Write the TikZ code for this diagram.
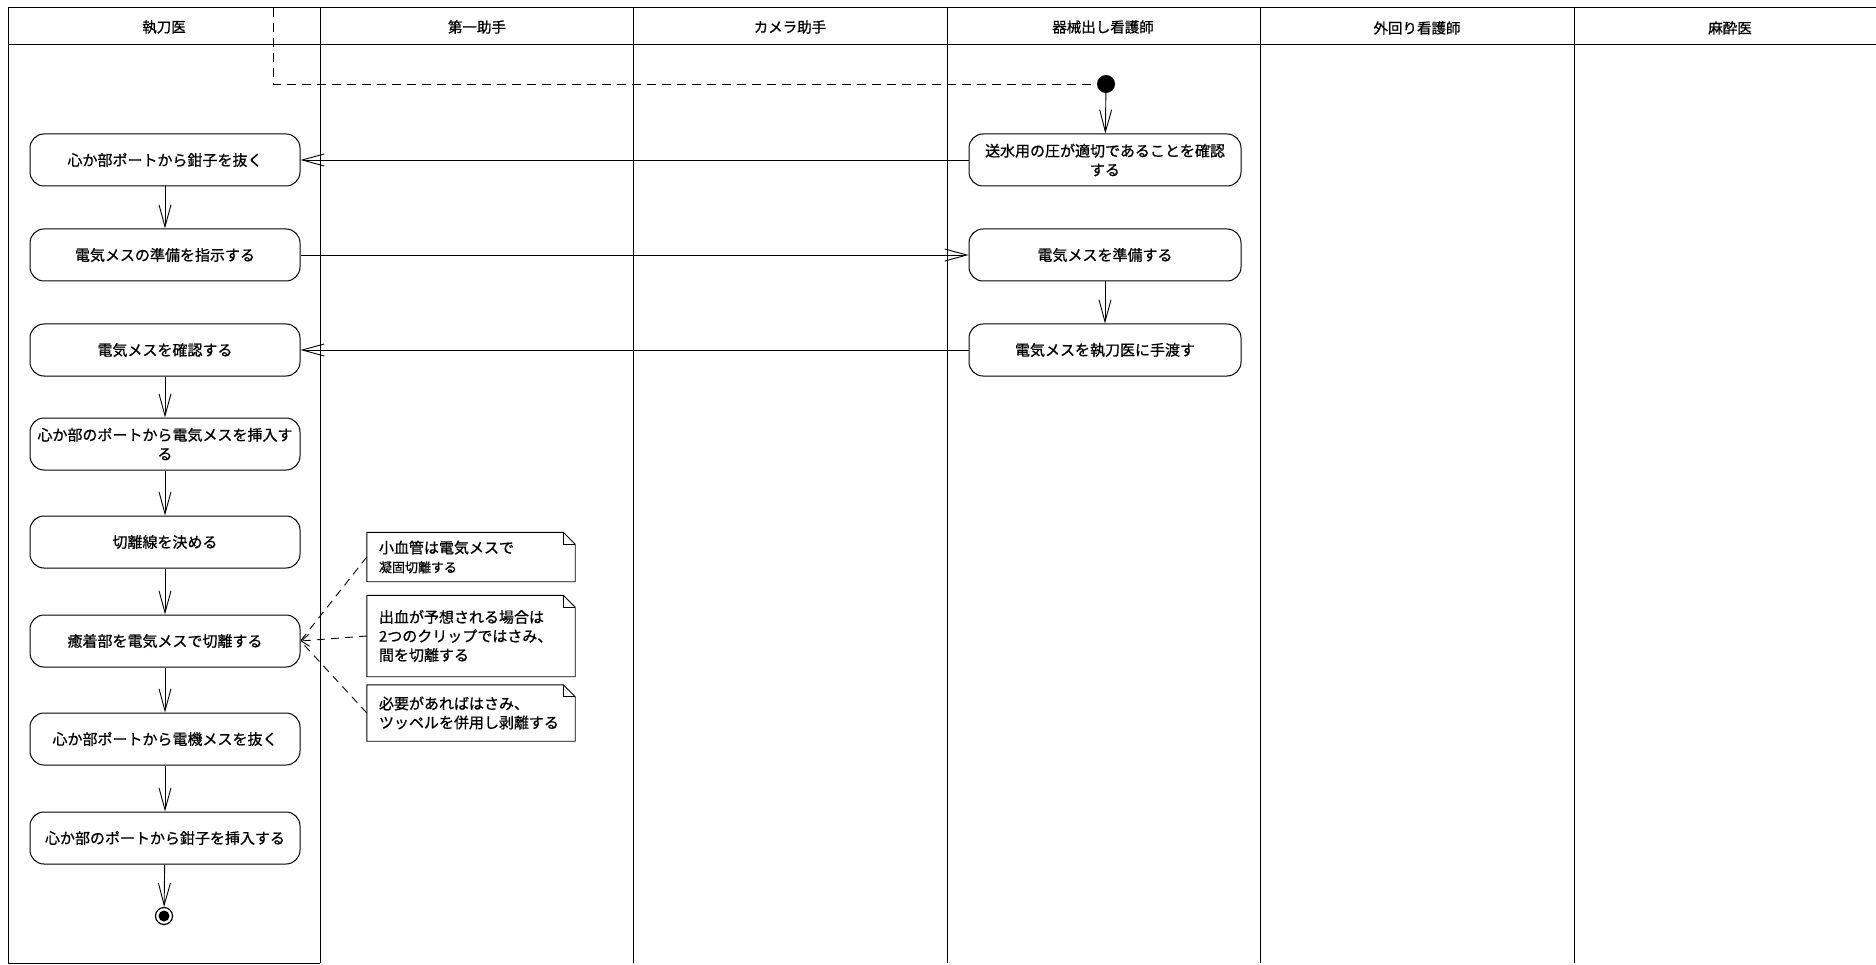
\documentclass[tikz,border=0pt]{standalone}
\usepackage{fontspec}
\setmainfont{Noto Sans CJK JP}[FakeBold=0.8]
\usetikzlibrary{arrows.meta}
\begin{document}
\begin{tikzpicture}[x=1pt,y=-1pt,
  act/.style={draw, line width=1pt, rounded corners=14pt, minimum width=270pt, minimum height=52pt,
    align=center, inner sep=2pt, font=\fontsize{15}{19}\selectfont},
  flow/.style={line width=0.9pt, -{Straight Barb[length=22pt,width=12pt]}},
  lane/.style={line width=1pt},
  hdr/.style={font=\fontsize{14.5}{17}\selectfont},
  notebox/.style={minimum width=208pt, text width=184pt, inner xsep=12pt, align=left,
    font=\fontsize{15}{19}\selectfont},
  link/.style={line width=0.9pt, dash pattern=on 8pt off 6pt},
  swim/.style={line width=0.9pt, dash pattern=on 9pt off 6pt}
]
\useasboundingbox (0,0) rectangle (1876,965);
% frame and lanes
\draw[lane] (8,8) -- (1876,8);
\draw[lane] (8,45) -- (1876,45);
\draw[lane] (8,8) -- (8,963) -- (320,963);
\foreach \xx in {320,633,947,1260,1574} \draw[lane] (\xx,8) -- (\xx,963);
\node[hdr] (h1) at (164,27) {執刀医};
\node[hdr] (h2) at (477,27) {第一助手};
\node[hdr] (h3) at (790,27) {カメラ助手};
\node[hdr] (h4) at (1103,27) {器械出し看護師};
\node[hdr] (h5) at (1417,28) {外回り看護師};
\node[hdr] (h6) at (1730,28) {麻酔医};
% initial / final
\node[circle, fill=black, inner sep=0pt, minimum size=18pt] (init) at (1106,84) {};
\coordinate (d0) at (273,8);
\draw[swim] (d0) |- (init.west);
% surgeon lane
\node[act] (a1) at (165,160) {心か部ポートから鉗子を抜く};
\node[act] (a2) at (165,255) {電気メスの準備を指示する};
\node[act] (a3) at (165,350) {電気メスを確認する};
\node[act] (a4) at (165,444) {心か部のポートから電気メスを挿入す\\る};
\node[act] (a5) at (165,542) {切離線を決める};
\node[act] (a6) at (165,641) {癒着部を電気メスで切離する};
\node[act] (a7) at (165,739) {心か部ポートから電機メスを抜く};
\node[act] (a8) at (165,838) {心か部のポートから鉗子を挿入する};
\node[circle, draw, line width=1.2pt, inner sep=0pt, minimum size=17pt] (fin) at (164,916) {};
\node[circle, fill=black, inner sep=0pt, minimum size=11pt] (finc) at (fin) {};
% nurse lane
\node[act, minimum width=272pt] (b1) at (1105,160) {送水用の圧が適切であることを確認\\する};
\node[act, minimum width=272pt] (b2) at (1105,255) {電気メスを準備する};
\node[act, minimum width=272pt] (b3) at (1105,350) {電気メスを執刀医に手渡す};
% flows
\draw[flow] (init) -- (b1);
\draw[flow] (b1) -- (a1);
\draw[flow] (a2) -- (b2);
\draw[flow] (b2) -- (b3);
\draw[flow] (b3) -- (a3);
\draw[flow] (a1) -- (a2);
\draw[flow] (a3) -- (a4);
\draw[flow] (a4) -- (a5);
\draw[flow] (a5) -- (a6);
\draw[flow] (a6) -- (a7);
\draw[flow] (a7) -- (a8);
\draw[flow] (a8) -- (fin);
% notes
\node[notebox, minimum height=49pt] (n1) at (471,557) {小血管は電気メスで\\{\fontsize{13}{16}\selectfont 凝固切離する}};
\node[notebox, minimum height=81pt] (n2) at (471,636) {出血が予想される場合は\\2つのクリップではさみ、\\間を切離する};
\node[notebox, minimum height=56pt] (n3) at (471,713) {必要があればはさみ、\\ツッペルを併用し剥離する};
\foreach \n in {n1,n2,n3} {
  \draw[line width=0.9pt] (\n.north west) -- ([xshift=-12pt]\n.north east) -- ([yshift=-12pt]\n.north east)
     -- (\n.south east) -- (\n.south west) -- cycle;
  \draw[line width=0.7pt] ([xshift=-12pt]\n.north east) -- ([xshift=-12pt,yshift=-12pt]\n.north east) -- ([yshift=-12pt]\n.north east);
}
\draw[link] (n1.west) -- (a6.east);
\draw[link, -{Straight Barb[length=8pt,width=12pt]}] (n2.west) -- (a6.east);
\draw[link] (n3.west) -- (a6.east);
\end{tikzpicture}
\end{document}
